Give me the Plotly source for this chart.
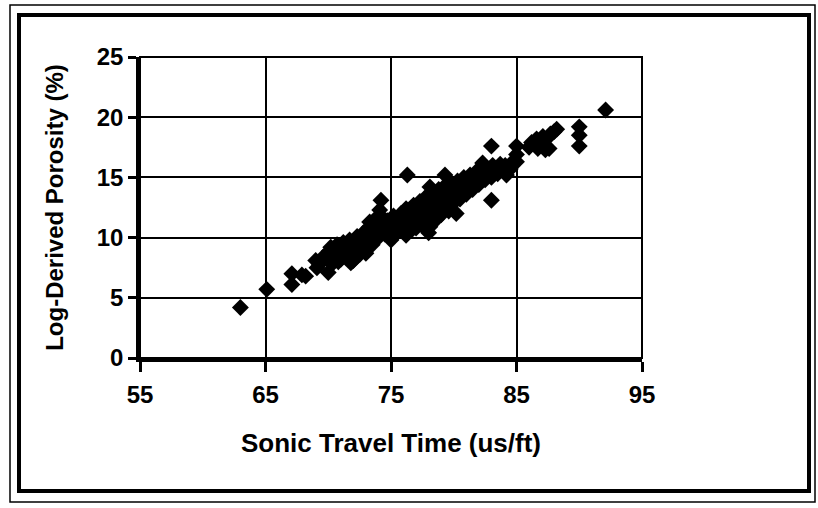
import plotly.graph_objects as go

# Sonic travel time (us/ft) vs. log-derived porosity (%)
sonic_time = [
    63.0, 65.1,
    67.1, 67.1, 67.9, 68.2,
    69.0, 69.1, 69.3, 69.6,
    70.0, 70.0, 70.1, 70.2, 70.3,
    70.6, 70.7, 70.8,
    71.0, 71.1, 71.2, 71.3,
    71.5, 71.6, 71.7, 71.8,
    72.0, 72.1, 72.2, 72.3,
    72.5, 72.6, 72.7, 72.8,
    73.0, 73.1, 73.2, 73.3, 73.3,
    73.5, 73.6, 73.7, 73.8,
    74.0, 74.0, 74.1, 74.1, 74.2, 74.2,
    74.5, 74.6, 74.7,
    75.0, 75.0, 75.1, 75.1, 75.2, 75.2,
    75.5, 75.6, 75.7, 75.8,
    76.0, 76.0, 76.1, 76.2, 76.3, 76.2,
    76.5, 76.6, 76.7, 76.8, 76.6,
    77.0, 77.1, 77.2, 77.3, 77.0,
    77.5, 77.6, 77.7, 77.8, 77.5,
    78.0, 78.1, 78.2, 78.2, 78.3, 78.3, 78.1,
    78.5, 78.6, 78.7, 78.8, 78.6,
    79.0, 79.1, 79.2, 79.3, 79.3, 79.0,
    79.5, 79.6, 79.7, 79.8, 79.6,
    80.0, 80.1, 80.2, 80.3, 80.2,
    80.5, 80.6, 80.7, 80.8,
    81.0, 81.1, 81.2, 81.3,
    81.5, 81.6, 81.7, 81.8,
    82.0, 82.1, 82.2, 82.3,
    82.5, 82.6, 82.7,
    83.0, 83.0, 83.1, 83.0, 83.0,
    83.5, 83.6, 83.7,
    84.0, 84.1, 84.2,
    84.5, 84.6,
    85.0, 85.0, 85.0,
    86.0, 86.2,
    86.5, 86.6, 86.7,
    87.0, 87.1, 87.2, 87.3,
    87.5, 87.7, 87.6,
    88.0, 88.2,
    90.0, 90.0, 90.0,
    92.1,
]

porosity = [
    4.2, 5.7,
    6.1, 7.0, 6.9, 6.8,
    8.1, 7.5, 7.8, 8.4,
    7.1, 8.3, 8.9, 9.2, 7.8,
    8.6, 9.4, 8.0,
    8.2, 9.0, 9.6, 8.7,
    8.4, 9.3, 9.8, 7.9,
    8.1, 8.9, 9.5, 10.1,
    8.6, 9.2, 9.9, 10.4,
    8.7, 9.6, 10.3, 11.3, 10.9,
    9.4, 10.2, 10.8, 11.6,
    10.0, 10.6, 11.2, 12.3, 13.1, 11.8,
    10.3, 10.9, 11.4,
    9.8, 10.4, 10.9, 11.3, 11.8, 10.1,
    10.5, 11.0, 11.6, 12.0,
    10.7, 11.2, 11.8, 12.4, 15.2, 10.2,
    11.0, 11.5, 12.1, 12.7, 10.6,
    11.3, 11.9, 12.4, 13.0, 10.8,
    11.6, 12.2, 12.8, 13.4, 11.0,
    10.4, 10.9, 11.8, 12.5, 13.1, 13.7, 14.2,
    12.1, 12.8, 13.4, 14.0, 11.5,
    12.3, 13.0, 13.6, 14.3, 15.2, 11.9,
    12.6, 13.3, 13.9, 14.5, 12.2,
    12.9, 13.5, 14.1, 14.7, 12.0,
    13.2, 13.8, 14.4, 15.0,
    13.6, 14.2, 14.8, 15.2,
    14.0, 14.6, 15.1, 15.5,
    14.4, 15.0, 15.4, 16.2,
    14.8, 15.3, 15.7,
    15.0, 15.5, 16.0, 13.1, 17.6,
    15.3, 15.8, 16.1,
    15.5, 16.0, 15.2,
    15.7, 16.2,
    16.3, 16.9, 17.6,
    17.5, 17.9,
    17.8, 18.2, 17.4,
    18.0, 18.4, 17.6, 17.3,
    18.3, 18.6, 17.4,
    18.8, 19.0,
    19.2, 18.5, 17.6,
    20.6,
]

x_ticks = [55, 65, 75, 85, 95]
y_ticks = [0, 5, 10, 15, 20, 25]

x_title = "Sonic Travel Time (us/ft)"
y_title = "Log-Derived Porosity (%)"

FONT = "Liberation Sans, Arial, sans-serif"
TICK_FONT = dict(family=FONT, size=24, color="black", weight="bold")
X_TITLE_FONT = dict(family=FONT, size=26, color="black", weight="bold")
Y_TITLE_FONT = dict(family=FONT, size=24, color="black", weight="bold")

fig = go.Figure(
    go.Scatter(
        x=sonic_time,
        y=porosity,
        mode="markers",
        marker=dict(symbol="diamond", size=13, color="black", line=dict(width=0)),
        showlegend=False,
        hoverinfo="x+y",
    )
)

# Plot frame in pixels, used to place the page borders in paper units
L, R, T, B = 140, 176, 57, 150
W, H = 818, 508
pw, ph = W - L - R, H - T - B


def px_x(p):
    return (p - L) / pw


def px_y(p):
    return (H - B - p) / ph


shapes = [
    # outer thin page frame
    dict(type="rect", xref="paper", yref="paper",
         x0=px_x(10), x1=px_x(815), y0=px_y(502), y1=px_y(5),
         line=dict(color="black", width=1.5), layer="below"),
    # inner heavy frame
    dict(type="rect", xref="paper", yref="paper",
         x0=px_x(19), x1=px_x(809), y0=px_y(491), y1=px_y(15),
         line=dict(color="black", width=4), layer="below"),
    # plot area outline (top/right edges)
    dict(type="rect", xref="x domain", yref="y domain",
         x0=0, x1=1, y0=0, y1=1,
         line=dict(color="black", width=2), layer="below"),
]

fig.update_layout(
    width=W,
    height=H,
    margin=dict(l=L, r=R, t=T, b=B, autoexpand=False),
    paper_bgcolor="white",
    plot_bgcolor="white",
    font=dict(family=FONT, color="black", size=20),
    shapes=shapes,
    xaxis=dict(
        range=[55, 95],
        tickvals=x_ticks,
        ticktext=[str(v) for v in x_ticks],
        showgrid=True, gridcolor="black", gridwidth=1.5,
        showline=True, linecolor="black", linewidth=4,
        ticks="outside", ticklen=10, tickwidth=3, tickcolor="black",
        tickfont=TICK_FONT,
        ticklabelstandoff=2,
        zeroline=False,
        title=dict(text=x_title, standoff=28, font=X_TITLE_FONT),
        automargin=False,
    ),
    yaxis=dict(
        range=[0, 25],
        tickvals=y_ticks,
        ticktext=[str(v) for v in y_ticks],
        showgrid=True, gridcolor="black", gridwidth=1.5,
        showline=True, linecolor="black", linewidth=3.5,
        ticks="outside", ticklen=8, tickwidth=3, tickcolor="black",
        tickfont=TICK_FONT,
        ticklabelstandoff=0,
        zeroline=False,
        title=dict(text=y_title, standoff=27, font=Y_TITLE_FONT),
        automargin=False,
    ),
)

fig.write_html("out.html")
